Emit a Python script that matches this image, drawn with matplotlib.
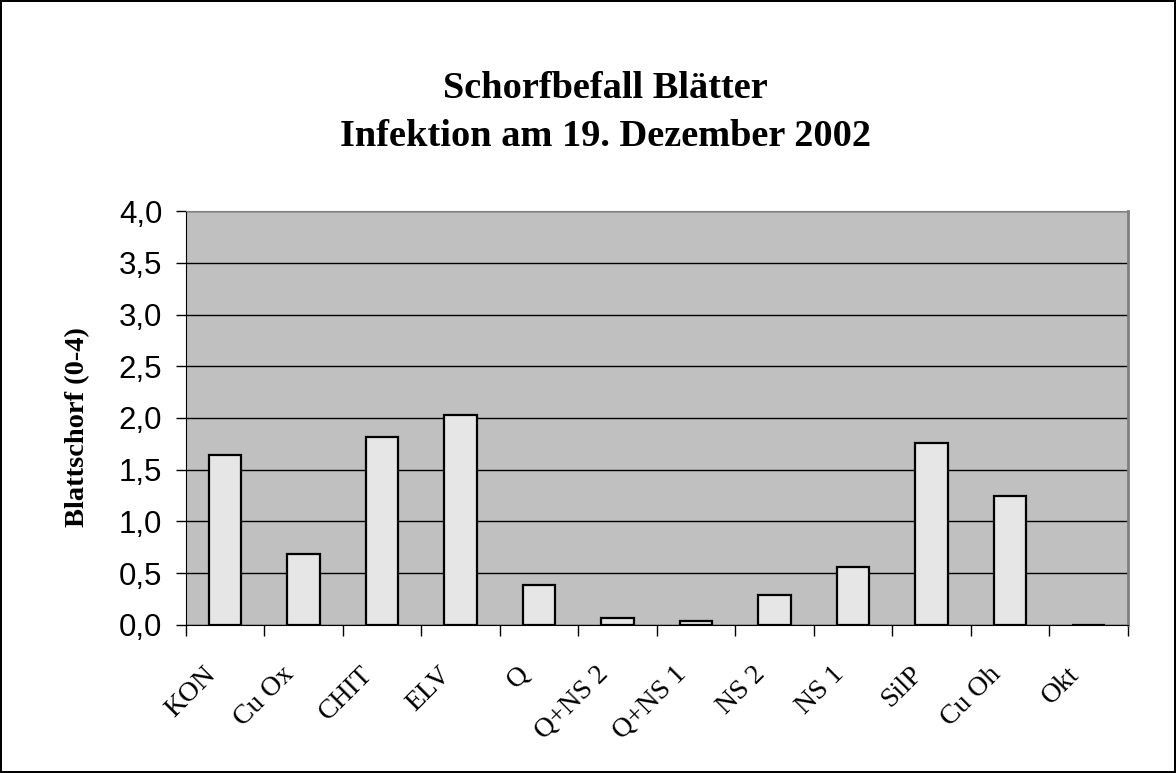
import matplotlib.pyplot as plt
import matplotlib.transforms as mtransforms
import numpy as np

categories = ['KON', 'Cu Ox', 'CHIT', 'ELV', 'Q', 'Q+NS 2', 'Q+NS 1',
              'NS 2', 'NS 1', 'SilP', 'Cu Oh', 'Okt']
values = [1.64, 0.69, 1.82, 2.03, 0.39, 0.07, 0.035, 0.29, 0.56, 1.76, 1.25, 0.0]
y_ticks = [0.0, 0.5, 1.0, 1.5, 2.0, 2.5, 3.0, 3.5, 4.0]
y_ticklabels = ['0,0', '0,5', '1,0', '1,5', '2,0', '2,5', '3,0', '3,5', '4,0']

fig = plt.figure(figsize=(11.76, 7.73), dpi=100)
fig.patch.set_edgecolor('black')
fig.patch.set_linewidth(1.5)

ax = fig.add_axes([0.158, 0.1915, 0.801, 0.5355])
ax.set_facecolor('#c0c0c0')

x = np.arange(len(categories))
ax.bar(x, values, width=0.41, color='#e6e6e6', edgecolor='black',
       linewidth=1.6, zorder=3)

ax.set_xlim(-0.5, len(categories) - 0.5)
ax.set_ylim(0, 4)
ax.set_yticks(y_ticks)
ax.set_yticklabels(y_ticklabels, fontsize=22.5, family='Liberation Sans')
ax.yaxis.grid(True, color='black', linewidth=1.0, zorder=1)
ax.set_axisbelow(True)

# category boundaries as ticks, labels at the centres
ax.set_xticks(np.arange(len(categories) + 1) - 0.5)
ax.set_xticklabels([])
ax.set_xticks(x, minor=True)
ax.set_xticklabels(categories, minor=True, rotation=45, ha='right',
                   va='top', rotation_mode='anchor', fontsize=20,
                   family='Liberation Serif')
ax.tick_params(axis='x', which='major', length=8, width=1, direction='out')
ax.tick_params(axis='x', which='minor', length=0, pad=26.5)
ax.tick_params(axis='y', length=7, width=1, direction='out', pad=10)

shift = mtransforms.ScaledTranslation(-22 / 100, 0, fig.dpi_scale_trans)
for lbl in ax.get_xticklabels(minor=True):
    lbl.set_transform(lbl.get_transform() + shift)

ax.spines['left'].set_color('black')
ax.spines['bottom'].set_color('black')
ax.spines['top'].set_color('#808080')
ax.spines['right'].set_color('#808080')
ax.spines['right'].set_linewidth(2)

ax.set_ylabel('Blattschorf (0-4)', fontsize=20.5, fontweight='bold',
              family='Liberation Serif')
ax.yaxis.set_label_coords(-0.102, 0.477)

fig.text(0.5145, 0.855, 'Schorfbefall Blätter\nInfektion am 19. Dezember 2002',
         ha='center', va='center', fontsize=27.6, fontweight='bold',
         family='Liberation Serif', linespacing=1.48)

fig.savefig('out.png', dpi=100, edgecolor=fig.get_edgecolor())
